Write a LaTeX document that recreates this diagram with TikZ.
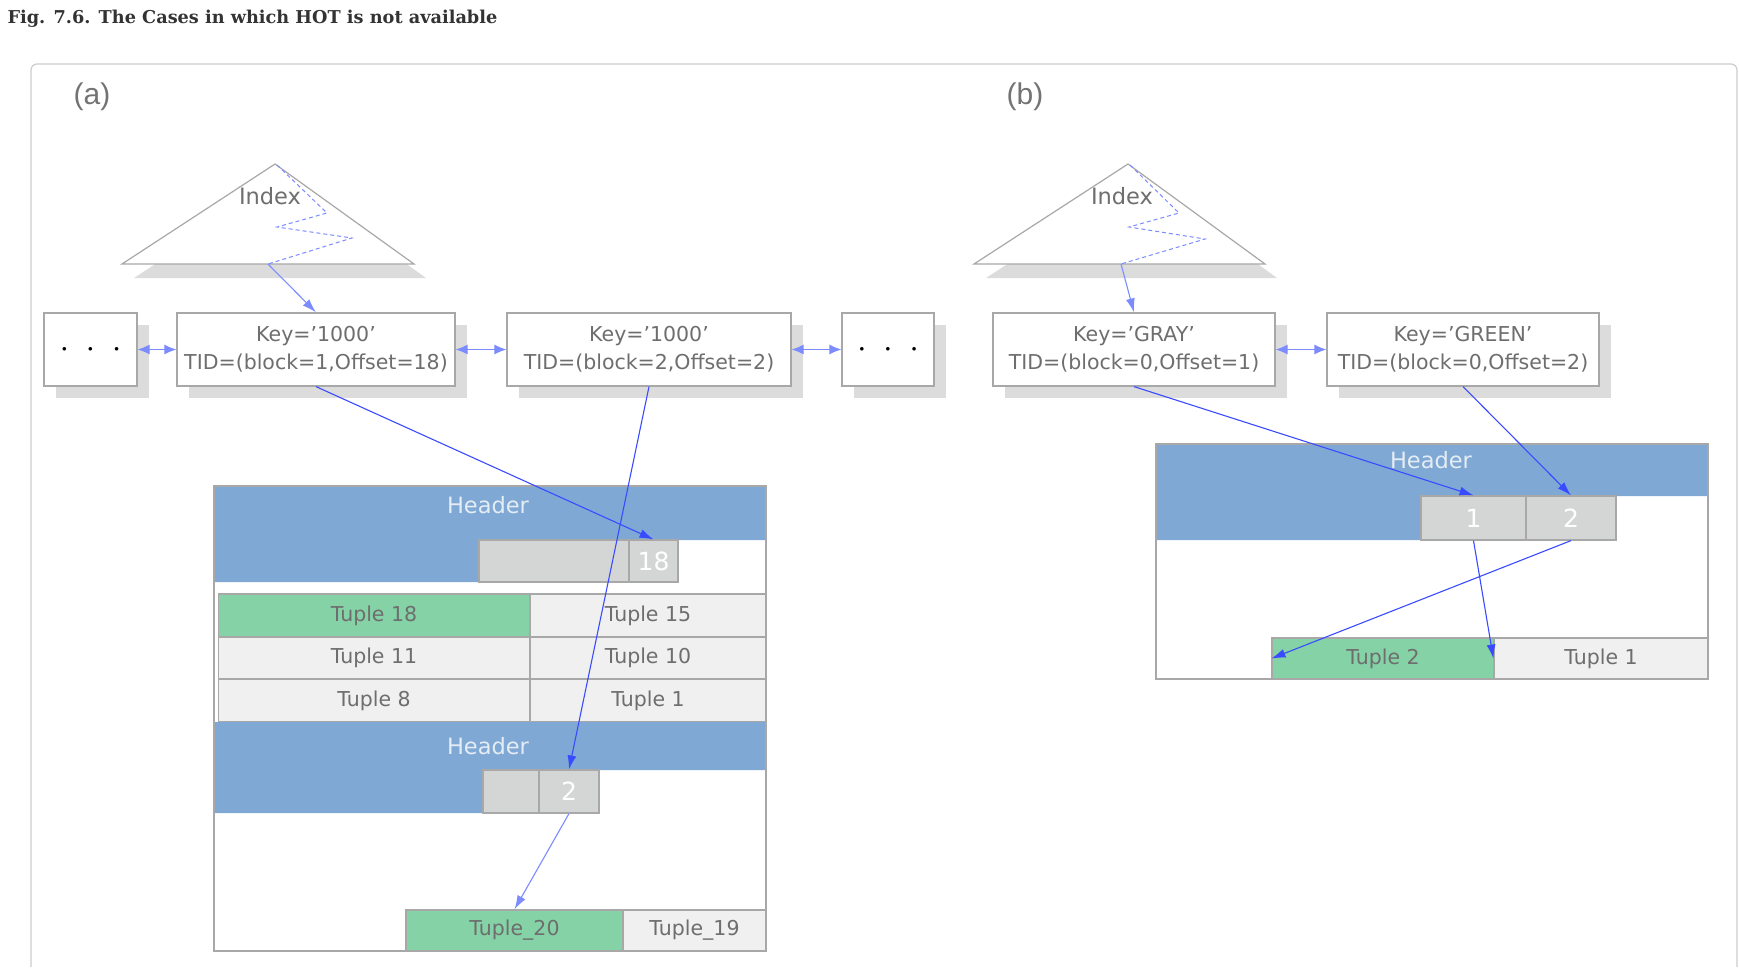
\documentclass[tikz,border=0pt]{standalone}
\usepackage{fontspec}
\setmainfont{DejaVu Sans}
\newfontfamily\titlefont{DejaVu Serif}
\newfontfamily\labelfont{Liberation Sans}
\usetikzlibrary{arrows.meta,shadows}

\definecolor{pageblue}{HTML}{7FA8D5}
\definecolor{tuplegreen}{HTML}{84D2A6}
\definecolor{tuplegray}{HTML}{F0F0F0}
\definecolor{slotgray}{HTML}{D4D6D5}
\definecolor{linegray}{HTML}{A8A8A8}
\definecolor{framegray}{HTML}{CCCCCC}
\definecolor{shadowgray}{HTML}{DCDCDC}
\definecolor{textgray}{HTML}{6E6E6E}
\definecolor{headtext}{HTML}{E4ECF4}
\definecolor{darkblue}{HTML}{3A4BFF}
\definecolor{lightblue}{HTML}{7C8CFF}

\tikzset{
  keybox/.style={draw=linegray, fill=white, line width=1.2pt, minimum height=73pt,
    inner sep=0pt, align=center, text=textgray, font=\fontsize{20.5}{28}\selectfont,
    drop shadow={shadow xshift=12pt, shadow yshift=-12pt, fill=shadowgray, opacity=1}},
  dotsbox/.style={keybox, text=black, font=\fontsize{9}{9}\selectfont},
  slot/.style={draw=linegray, fill=slotgray, line width=1.2pt, inner sep=0pt,
    text=white, font=\fontsize{25}{25}\selectfont},
  tuple/.style={draw=linegray, fill=tuplegray, line width=1.2pt, inner sep=0pt,
    text=textgray, font=\fontsize{20.5}{24}\selectfont},
  hottuple/.style={tuple, fill=tuplegreen},
  header/.style={text=headtext, font=\fontsize{22.5}{24}\selectfont},
  indexlabel/.style={text=textgray, font=\fontsize{22.5}{24}\selectfont},
  link/.style={draw=darkblue, line width=1.1pt, -{Latex[length=14pt,width=9pt]}},
  lightlink/.style={draw=lightblue, line width=1.1pt, -{Latex[length=14pt,width=9pt]}},
  both/.style={draw=lightblue, line width=1.1pt,
    {Latex[length=12pt,width=10pt]}-{Latex[length=12pt,width=10pt]}},
  zigzag/.style={draw=lightblue, line width=1pt, dash pattern=on 4pt off 3pt}
}

\begin{document}
\begin{tikzpicture}[x=1pt, y=-1pt]
  \useasboundingbox (0,0) rectangle (1739,967);

  % Title and frame
  \node[anchor=west, text=black!80, font=\titlefont\bfseries\fontsize{17.7}{20}\selectfont]
    (title) at (4,19) {Fig. 7.6. The Cases in which HOT is not available};
  \draw[framegray, line width=1.2pt, rounded corners=6pt] (31,967) -- (31,64) -- (1737,64) -- (1737,967);

  \node[text=black!55, font=\labelfont\fontsize{30}{30}\selectfont] (laba) at (92,97) {(a)};
  \node[text=black!55, font=\labelfont\fontsize{30}{30}\selectfont] (labb) at (1025,97) {(b)};

  %%% (a)
  % Index tree
  \fill[shadowgray] (134,278) -- (287,178) -- (426,278) -- cycle;
  \draw[linegray, fill=white, line width=1.2pt] (122,264) -- (275,164) -- (414,264) -- cycle;
  \node[indexlabel] (idxa) at (270,196) {Index};
  \draw[zigzag] (277,165) -- (327,213) -- (277,227) -- (352,238) -- (268,264) coordinate (ixa);

  % Keys
  \node[dotsbox, minimum width=93pt] (dotsL) at (90.5,349.5)
    {$\bullet$\hspace{21.5pt}$\bullet$\hspace{21.5pt}$\bullet$};
  \node[keybox, minimum width=278pt] (key1) at (316,349.5)
    {Key=’1000’\\TID=(block=1,Offset=18)};
  \node[keybox, minimum width=284pt] (key2) at (649,349.5)
    {Key=’1000’\\TID=(block=2,Offset=2)};
  \node[dotsbox, minimum width=92pt] (dotsR) at (888,349.5)
    {$\bullet$\hspace{21.5pt}$\bullet$\hspace{21.5pt}$\bullet$};

  \draw[both] (dotsL) -- (key1);
  \draw[both] (key1) -- (key2);
  \draw[both] (key2) -- (dotsR);
  \draw[lightlink] (ixa) -- (key1.north);

  % Page, block 1
  \fill[white] (214,486) rectangle (766,951);
  \fill[pageblue] (214,486) -- (766,486) -- (766,540) -- (678,540) -- (678,582) -- (214,582) -- cycle;
  \node[header] (hdr1) at (488,505) {Header};
  \node[slot, minimum width=150pt, minimum height=42pt] (s18e) at (554,561) {};
  \node[slot, minimum width=49pt, minimum height=42pt] (s18) at (653.5,561) {18};

  \node[hottuple, minimum width=311.5pt, minimum height=43pt] (t18) at (374,615.5) {Tuple 18};
  \node[tuple, minimum width=236pt, minimum height=43pt] (t15) at (648,615.5) {Tuple 15};
  \node[tuple, minimum width=311.5pt, minimum height=42pt] (t11) at (374,658) {Tuple 11};
  \node[tuple, minimum width=236pt, minimum height=42pt] (t10) at (648,658) {Tuple 10};
  \node[tuple, minimum width=311.5pt, minimum height=43pt] (t8) at (374,700.5) {Tuple 8};
  \node[tuple, minimum width=236pt, minimum height=43pt] (t1) at (648,700.5) {Tuple 1};

  % Page, block 2
  \fill[pageblue] (214,722) -- (766,722) -- (766,770) -- (599,770) -- (599,813) -- (214,813) -- cycle;
  \node[header] (hdr2) at (488,746) {Header};
  \node[slot, minimum width=56pt, minimum height=43pt] (s2e) at (511,791.5) {};
  \node[slot, minimum width=60pt, minimum height=43pt] (s2) at (569,791.5) {2};
  \node[hottuple, minimum width=217pt, minimum height=41pt] (t20) at (514.5,930.5) {Tuple\_20};
  \node[tuple, minimum width=143pt, minimum height=41pt] (t19) at (694.5,930.5) {Tuple\_19};
  \draw[linegray, line width=1.5pt] (214,486) rectangle (766,951);

  \draw[link] (key1.south) -- (s18.north);
  \draw[link] (key2.south) -- (s2.north);
  \draw[lightlink] (s2.south) -- (t20.north);

  %%% (b)
  % Index tree
  \fill[shadowgray] (986,278) -- (1140,178) -- (1277,278) -- cycle;
  \draw[linegray, fill=white, line width=1.2pt] (974,264) -- (1128,164) -- (1265,264) -- cycle;
  \node[indexlabel] (idxb) at (1122,196) {Index};
  \draw[zigzag] (1130,165) -- (1179,213) -- (1129,227) -- (1205,239) -- (1121,264) coordinate (ixb);

  % Keys
  \node[keybox, minimum width=282pt] (keyg) at (1134,349.5)
    {Key=’GRAY’\\TID=(block=0,Offset=1)};
  \node[keybox, minimum width=272pt] (keyn) at (1463,349.5)
    {Key=’GREEN’\\TID=(block=0,Offset=2)};

  \draw[both] (keyg) -- (keyn);
  \draw[lightlink] (ixb) -- (keyg.north);

  % Page
  \fill[white] (1156,444) rectangle (1708,679);
  \fill[pageblue] (1156,444) -- (1708,444) -- (1708,496) -- (1616,496) -- (1616,540) -- (1156,540) -- cycle;
  \node[header] (hdrb) at (1431,460) {Header};
  \node[slot, minimum width=105pt, minimum height=44pt] (sb1) at (1473.5,518) {1};
  \node[slot, minimum width=90pt, minimum height=44pt] (sb2) at (1571,518) {2};
  \node[hottuple, minimum width=222pt, minimum height=41pt] (tb2) at (1383,658.5) {Tuple 2};
  \node[tuple, minimum width=214pt, minimum height=41pt] (tb1) at (1601,658.5) {Tuple 1};
  \draw[linegray, line width=1.5pt] (1156,444) rectangle (1708,679);

  \draw[link] (keyg.south) -- (sb1.north);
  \draw[link] (keyn.south) -- (sb2.north);
  \draw[link] (sb1.south) -- (tb1.west);
  \draw[link] (sb2.south) -- (tb2.west);
\end{tikzpicture}
\end{document}
